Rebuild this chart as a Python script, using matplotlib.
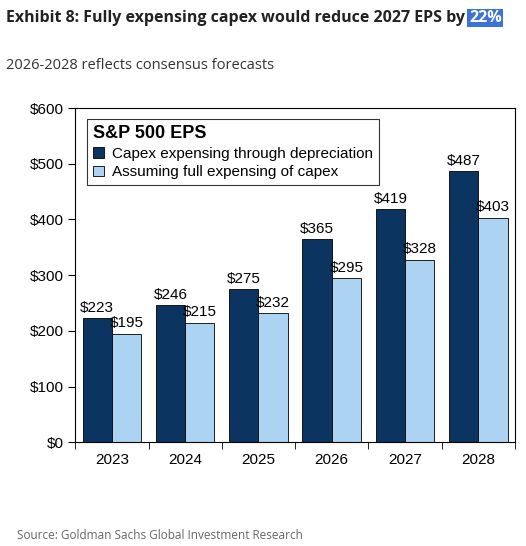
import matplotlib
matplotlib.use("Agg")
import matplotlib.pyplot as plt
import numpy as np

years = ["2023", "2024", "2025", "2026", "2027", "2028"]
depr = [223, 246, 275, 365, 419, 487]
full = [195, 215, 232, 295, 328, 403]
yticks = [0, 100, 200, 300, 400, 500, 600]

fig = plt.figure(figsize=(5.26, 5.46), dpi=100)
ax = fig.add_axes([0.143, 0.190, 0.836, 0.612])
x = np.arange(len(years))
w = 0.4
dark = "#0b3560"; light = "#acd3f1"
b1 = ax.bar(x - w/2, depr, w, color=dark, edgecolor="black", linewidth=0.6,
            label="Capex expensing through depreciation")
b2 = ax.bar(x + w/2, full, w, color=light, edgecolor="black", linewidth=0.6,
            label="Assuming full expensing of capex")
for xi, v in zip(x - w/2, depr):
    ax.text(xi, v + 6, f"${v}", ha="center", va="bottom", fontsize=11, family="Liberation Sans")
for xi, v in zip(x + w/2, full):
    ax.text(xi, v + 6, f"${v}", ha="center", va="bottom", fontsize=11, family="Liberation Sans")
ax.set_xlim(-0.5, 5.5)
ax.set_ylim(0, 600)
ax.set_yticks(yticks)
ax.set_yticklabels([f"${t}" for t in yticks], fontsize=11, family="Liberation Sans")
ax.set_xticks(x)
ax.set_xticklabels(years, fontsize=11, family="Liberation Sans")
ax.tick_params(axis="x", length=0, pad=8)
ax.set_xticks(np.arange(-0.5, 6, 1), minor=True)
ax.tick_params(axis="x", which="minor", length=5, direction="out")
ax.tick_params(axis="y", length=5, direction="out")
for s in ax.spines.values():
    s.set_linewidth(0.8)
leg = ax.legend(loc="upper left", bbox_to_anchor=(0.01, 0.99), title="S&P 500 EPS",
                prop={"family": "Liberation Sans", "size": 11}, frameon=True, fancybox=False,
                edgecolor="black", handlelength=0.7, handletextpad=0.5, borderpad=0.4,
                labelspacing=0.3)
leg.get_title().set_fontweight("bold")
leg.get_title().set_fontsize(13)
leg.get_title().set_family("Liberation Sans")
leg._legend_box.align = "left"
leg.get_frame().set_linewidth(0.8)

t = fig.text(0.011, 0.967, "Exhibit 8: Fully expensing capex would reduce 2027 EPS by ",
             fontsize=11.5, fontweight="bold", family="Open Sans", va="center", color="#222222")
fig.canvas.draw()
bb = t.get_window_extent()
fx = bb.x1 / fig.bbox.width
fig.text(fx, 0.967, "22%", fontsize=11.5, fontweight="bold", family="Open Sans", va="center",
         color="white", bbox=dict(facecolor="#3b73d6", edgecolor="none", pad=1))
fig.text(0.011, 0.880, "2026-2028 reflects consensus forecasts", fontsize=10.5,
         family="Open Sans", va="center", color="#333333")
fig.text(0.032, 0.020, "Source: Goldman Sachs Global Investment Research", fontsize=8.5,
         family="Open Sans", va="center", color="#666666")
fig.savefig("out.png", dpi=100)
